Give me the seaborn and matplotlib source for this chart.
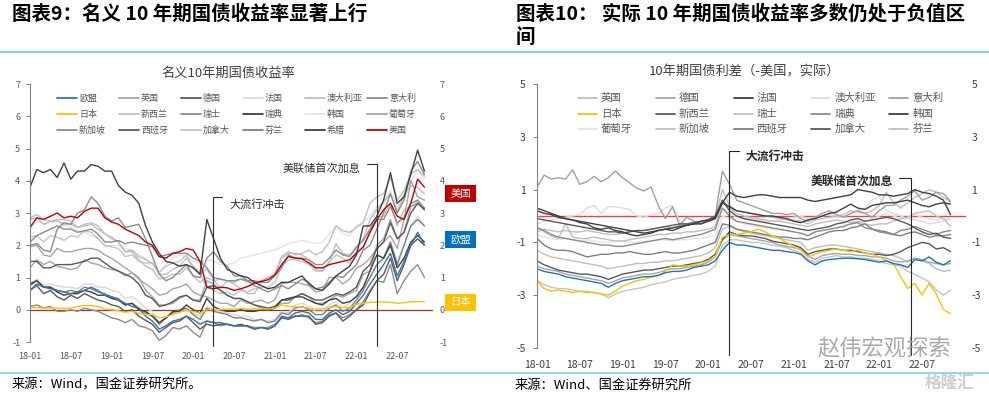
import numpy as np
import pandas as pd
import matplotlib
matplotlib.use("Agg")
import matplotlib.pyplot as plt
import seaborn as sns
from matplotlib.lines import Line2D
from matplotlib.patches import Rectangle

sns.set_style("white")
plt.rcParams['font.family'] = ['Noto Sans CJK SC', 'DejaVu Sans']
plt.rcParams['axes.unicode_minus'] = False

# ---------------- data (monthly, 2018-01 .. 2022-11) ----------------
tick_labels = ["18-01", "18-07", "19-01", "19-07", "20-01", "20-07", "21-01", "21-07", "22-01", "22-07"]

# left: nominal 10Y yields
nom_eu = [0.60, 0.80, 0.70, 0.65, 0.60, 0.55, 0.50, 0.55, 0.60, 0.70, 0.60, 0.45,
          0.40, 0.30, 0.20, 0.10, 0.05, -0.20, -0.35, -0.60, -0.50, -0.35, -0.30, -0.20,
          -0.30, -0.45, -0.35, -0.40, -0.40, -0.45, -0.50, -0.50, -0.50, -0.60, -0.55, -0.60,
          -0.50, -0.20, -0.25, -0.10, -0.05, -0.10, -0.30, -0.30, -0.10, 0.00, -0.15, -0.05,
          0.20, 0.45, 0.80, 1.10, 1.40, 1.75, 1.05, 1.50, 2.00, 2.40, 2.00]
nom_uk = [1.30, 1.55, 1.40, 1.50, 1.35, 1.30, 1.25, 1.30, 1.55, 1.45, 1.40, 1.30,
          1.25, 1.20, 1.05, 1.15, 0.95, 0.80, 0.65, 0.45, 0.50, 0.65, 0.70, 0.80,
          0.55, 0.45, 0.40, 0.30, 0.20, 0.20, 0.10, 0.30, 0.20, 0.25, 0.30, 0.20,
          0.30, 0.80, 0.85, 0.85, 0.80, 0.75, 0.55, 0.60, 1.00, 1.00, 0.80, 0.95,
          1.30, 1.40, 1.60, 1.90, 2.10, 2.30, 1.90, 2.80, 4.00, 3.50, 3.40]
nom_de = [0.60, 0.75, 0.50, 0.60, 0.40, 0.30, 0.45, 0.35, 0.50, 0.40, 0.30, 0.25,
          0.15, 0.10, -0.05, 0.00, -0.20, -0.33, -0.45, -0.70, -0.55, -0.40, -0.35, -0.20,
          -0.40, -0.60, -0.45, -0.50, -0.45, -0.45, -0.50, -0.45, -0.52, -0.60, -0.55, -0.60,
          -0.50, -0.25, -0.30, -0.20, -0.20, -0.20, -0.45, -0.40, -0.20, -0.10, -0.35, -0.20,
          0.00, 0.15, 0.55, 0.90, 1.10, 1.60, 0.90, 1.40, 2.00, 2.20, 2.00]
nom_fr = [0.80, 0.95, 0.75, 0.80, 0.75, 0.70, 0.70, 0.65, 0.80, 0.80, 0.70, 0.70,
          0.60, 0.55, 0.35, 0.40, 0.25, 0.05, -0.05, -0.40, -0.25, -0.10, -0.05, 0.05,
          -0.10, -0.20, 0.10, 0.00, -0.05, -0.10, -0.15, -0.20, -0.20, -0.30, -0.30, -0.35,
          -0.30, -0.05, -0.10, 0.15, 0.20, 0.10, -0.05, -0.05, 0.15, 0.25, 0.05, 0.20,
          0.45, 0.70, 1.00, 1.40, 1.60, 2.10, 1.50, 2.00, 2.60, 2.90, 2.60]
nom_au = [2.80, 2.85, 2.65, 2.75, 2.75, 2.65, 2.65, 2.55, 2.65, 2.70, 2.60, 2.35,
          2.25, 2.10, 1.80, 1.80, 1.55, 1.35, 1.25, 0.95, 1.00, 1.10, 1.10, 1.30,
          1.05, 0.85, 1.00, 0.90, 0.95, 0.90, 0.85, 0.95, 0.85, 0.85, 0.90, 1.00,
          1.10, 1.60, 1.75, 1.75, 1.70, 1.55, 1.25, 1.20, 1.45, 2.05, 1.75, 1.70,
          1.90, 2.20, 2.80, 3.10, 3.35, 3.60, 3.05, 3.55, 3.85, 3.80, 3.60]
nom_it = [2.00, 2.05, 1.85, 1.80, 2.50, 2.70, 2.65, 3.00, 3.10, 3.50, 3.30, 2.90,
          2.75, 2.85, 2.55, 2.60, 2.65, 2.20, 1.65, 1.10, 0.90, 1.00, 1.20, 1.40,
          1.05, 1.00, 1.60, 1.80, 1.50, 1.35, 1.05, 1.05, 0.90, 0.75, 0.65, 0.55,
          0.65, 0.75, 0.65, 0.80, 0.95, 0.85, 0.65, 0.70, 0.85, 1.05, 1.00, 1.20,
          1.40, 1.85, 2.00, 2.50, 3.00, 3.60, 3.00, 3.40, 4.30, 4.60, 4.20]
nom_jp = [0.07, 0.07, 0.05, 0.05, 0.05, 0.04, 0.05, 0.10, 0.13, 0.13, 0.10, 0.02,
          0.00, -0.03, -0.08, -0.05, -0.10, -0.15, -0.15, -0.25, -0.22, -0.15, -0.08, -0.02,
          -0.05, -0.10, 0.00, 0.02, 0.00, 0.02, 0.02, 0.05, 0.02, 0.04, 0.02, 0.02,
          0.05, 0.15, 0.10, 0.10, 0.08, 0.05, 0.02, 0.03, 0.07, 0.10, 0.07, 0.07,
          0.17, 0.20, 0.23, 0.24, 0.24, 0.23, 0.20, 0.22, 0.25, 0.25, 0.25]
nom_nz = [2.85, 2.95, 2.80, 2.75, 2.80, 2.80, 2.75, 2.55, 2.60, 2.65, 2.50, 2.35,
          2.20, 2.10, 1.80, 1.85, 1.65, 1.55, 1.45, 1.10, 1.10, 1.25, 1.35, 1.60,
          1.35, 1.15, 1.25, 0.95, 0.65, 0.90, 0.80, 0.65, 0.50, 0.50, 0.85, 1.00,
          1.10, 1.65, 1.80, 1.70, 1.75, 1.85, 1.70, 1.80, 2.10, 2.60, 2.45, 2.40,
          2.55, 2.70, 3.30, 3.50, 3.60, 4.10, 3.40, 3.70, 4.20, 4.35, 4.15]
nom_ch = [0.10, 0.15, 0.05, 0.10, -0.05, -0.05, 0.00, -0.05, 0.05, 0.00, -0.05, -0.15,
          -0.25, -0.30, -0.40, -0.30, -0.50, -0.55, -0.65, -0.95, -0.80, -0.55, -0.60, -0.50,
          -0.70, -0.85, -0.35, -0.40, -0.50, -0.45, -0.50, -0.50, -0.50, -0.55, -0.55, -0.55,
          -0.45, -0.25, -0.25, -0.20, -0.15, -0.25, -0.40, -0.35, -0.15, -0.10, -0.25, -0.15,
          0.00, 0.25, 0.60, 0.90, 0.85, 1.40, 0.50, 0.90, 1.20, 1.40, 1.00]
nom_se = [0.80, 0.90, 0.70, 0.70, 0.55, 0.45, 0.50, 0.50, 0.60, 0.55, 0.45, 0.45,
          0.35, 0.30, 0.15, 0.20, 0.00, -0.05, -0.20, -0.40, -0.25, -0.05, -0.05, 0.15,
          0.00, -0.10, 0.35, 0.10, 0.00, -0.05, -0.05, 0.00, -0.05, -0.05, 0.00, 0.00,
          0.05, 0.30, 0.35, 0.40, 0.40, 0.30, 0.20, 0.15, 0.30, 0.35, 0.20, 0.25,
          0.40, 0.70, 1.20, 1.70, 1.60, 2.00, 1.30, 1.60, 2.10, 2.30, 2.10]
nom_kr = [2.50, 2.75, 2.65, 2.70, 2.75, 2.60, 2.55, 2.45, 2.40, 2.30, 2.20, 1.95,
          2.00, 2.00, 1.90, 1.85, 1.70, 1.60, 1.40, 1.20, 1.40, 1.60, 1.70, 1.65,
          1.50, 1.45, 1.55, 1.50, 1.40, 1.40, 1.45, 1.60, 1.65, 1.70, 1.75, 1.80,
          1.85, 1.95, 2.05, 2.10, 2.15, 2.10, 2.05, 2.10, 2.35, 2.60, 2.35, 2.30,
          2.60, 2.70, 2.90, 3.20, 3.30, 3.70, 3.20, 3.40, 4.00, 4.30, 4.10]
nom_pt = [1.95, 2.00, 1.70, 1.65, 1.90, 1.80, 1.80, 1.85, 1.90, 1.90, 1.85, 1.70,
          1.60, 1.45, 1.30, 1.15, 1.00, 0.60, 0.40, 0.15, 0.15, 0.20, 0.35, 0.45,
          0.30, 0.30, 0.90, 0.80, 0.60, 0.45, 0.35, 0.35, 0.25, 0.15, 0.05, 0.00,
          0.05, 0.20, 0.20, 0.40, 0.50, 0.40, 0.20, 0.20, 0.30, 0.45, 0.40, 0.50,
          0.60, 1.10, 1.20, 2.00, 2.20, 2.80, 2.20, 2.40, 3.20, 3.30, 3.15]
nom_sg = [2.10, 2.30, 2.40, 2.50, 2.60, 2.50, 2.50, 2.40, 2.45, 2.50, 2.35, 2.10,
          2.10, 2.15, 2.05, 2.10, 2.05, 2.00, 1.95, 1.65, 1.70, 1.75, 1.75, 1.75,
          1.60, 1.50, 1.30, 1.00, 0.95, 0.90, 0.90, 0.95, 0.90, 0.90, 0.85, 0.85,
          1.05, 1.30, 1.70, 1.60, 1.60, 1.55, 1.40, 1.40, 1.60, 1.85, 1.70, 1.65,
          1.95, 2.15, 2.50, 2.80, 2.80, 3.20, 2.70, 2.85, 3.30, 3.40, 3.15]
nom_es = [1.50, 1.50, 1.30, 1.30, 1.40, 1.40, 1.40, 1.45, 1.50, 1.60, 1.60, 1.45,
          1.30, 1.20, 1.10, 1.00, 0.80, 0.45, 0.35, 0.10, 0.15, 0.25, 0.40, 0.45,
          0.30, 0.25, 0.70, 0.75, 0.60, 0.45, 0.35, 0.35, 0.25, 0.15, 0.10, 0.05,
          0.10, 0.30, 0.30, 0.40, 0.50, 0.40, 0.30, 0.30, 0.40, 0.50, 0.45, 0.55,
          0.70, 1.20, 1.40, 1.90, 2.10, 2.70, 2.20, 2.40, 3.00, 3.30, 3.10]
nom_ca = [2.25, 2.30, 2.10, 2.30, 2.25, 2.15, 2.30, 2.25, 2.45, 2.40, 2.20, 2.00,
          1.95, 1.90, 1.65, 1.70, 1.50, 1.45, 1.45, 1.15, 1.35, 1.45, 1.50, 1.70,
          1.30, 1.10, 0.70, 0.60, 0.50, 0.55, 0.45, 0.60, 0.55, 0.65, 0.70, 0.70,
          0.85, 1.35, 1.55, 1.55, 1.50, 1.40, 1.20, 1.20, 1.50, 1.70, 1.60, 1.45,
          1.80, 1.90, 2.45, 2.85, 2.90, 3.30, 2.60, 3.10, 3.20, 3.35, 3.10]
nom_fi = [0.75, 0.90, 0.70, 0.70, 0.60, 0.55, 0.60, 0.55, 0.70, 0.65, 0.55, 0.50,
          0.40, 0.35, 0.15, 0.20, 0.05, -0.10, -0.20, -0.45, -0.25, -0.10, 0.00, 0.05,
          -0.15, -0.30, 0.05, -0.05, -0.10, -0.15, -0.25, -0.25, -0.30, -0.35, -0.30, -0.40,
          -0.35, -0.10, -0.15, 0.05, 0.10, 0.00, -0.15, -0.15, 0.05, 0.15, -0.05, 0.05,
          0.30, 0.60, 1.00, 1.40, 1.60, 2.10, 1.40, 2.00, 2.60, 2.80, 2.60]
nom_gr = [3.80, 4.35, 4.25, 4.35, 4.10, 4.55, 4.05, 4.30, 4.30, 4.50, 4.45, 4.30,
          4.30, 3.85, 3.65, 3.55, 3.30, 2.60, 2.10, 1.75, 1.50, 1.45, 1.35, 1.40,
          1.30, 1.10, 2.80, 2.20, 1.60, 1.25, 1.15, 1.05, 1.00, 0.85, 0.75, 0.65,
          0.70, 0.85, 0.85, 0.95, 1.05, 0.80, 0.65, 0.60, 0.80, 1.05, 1.20, 1.35,
          1.70, 2.60, 2.60, 2.90, 3.40, 4.25, 3.30, 3.50, 4.20, 4.95, 4.30]
nom_us = [2.55, 2.85, 2.80, 2.90, 3.00, 2.85, 2.90, 2.85, 3.05, 3.15, 3.15, 2.85,
          2.72, 2.65, 2.50, 2.40, 2.30, 2.10, 2.00, 1.65, 1.60, 1.75, 1.80, 1.90,
          1.85, 1.50, 0.70, 0.65, 0.70, 0.68, 0.60, 0.65, 0.72, 0.82, 0.88, 0.93,
          1.08, 1.40, 1.65, 1.60, 1.58, 1.45, 1.30, 1.30, 1.40, 1.45, 1.50, 1.55,
          1.75, 1.95, 2.40, 2.80, 3.10, 3.30, 2.90, 2.80, 3.30, 4.05, 3.80]

nom_names = ["欧盟", "英国", "德国", "法国", "澳大利亚", "意大利",
             "日本", "新西兰", "瑞士", "瑞典", "韩国", "葡萄牙",
             "新加坡", "西班牙", "加拿大", "芬兰", "希腊", "美国"]
nom_series = [nom_eu, nom_uk, nom_de, nom_fr, nom_au, nom_it,
              nom_jp, nom_nz, nom_ch, nom_se, nom_kr, nom_pt,
              nom_sg, nom_es, nom_ca, nom_fi, nom_gr, nom_us]
nom_colors = ["#2e75b6", "#a6a6a6", "#595959", "#d9d9d9", "#bfbfbf", "#8c8c8c",
              "#ffc000", "#bfbfbf", "#8c8c8c", "#404040", "#e3e3e3", "#a6a6a6",
              "#8c8c8c", "#595959", "#c4c4c4", "#808080", "#404040", "#c00000"]

# right: real 10Y spreads vs US
real_uk = [-0.40, -0.60, -0.75, -0.85, -0.30, -0.80, -0.85, -0.85, -0.80, -0.85, -0.90, -0.95,
           -0.95, -0.90, -0.85, -0.80, -0.75, -0.70, -0.70, -0.65, -0.65, -0.60, -0.60, -0.55,
           -0.50, -0.40, 0.60, 0.30, 0.10, 0.00, -0.05, -0.10, -0.15, -0.20, -0.20, -0.25,
           -0.30, -0.35, -0.40, -0.30, -0.25, -0.20, -0.15, -0.20, -0.25, -0.20, -0.30, -0.35,
           -0.30, -0.30, -0.20, -0.10, -0.05, 0.10, 0.15, 0.20, 0.00, -0.10, -0.40]
real_de = [-1.90, -2.00, -2.05, -2.10, -2.20, -2.25, -2.30, -2.35, -2.40, -2.45, -2.55, -2.45,
           -2.35, -2.30, -2.25, -2.20, -2.20, -2.15, -2.05, -2.00, -2.00, -1.95, -1.90, -1.85,
           -1.75, -1.55, -0.90, -0.70, -0.75, -0.80, -0.85, -0.90, -0.95, -1.00, -1.10, -1.15,
           -1.20, -1.25, -1.50, -1.65, -1.50, -1.45, -1.42, -1.45, -1.45, -1.50, -1.50, -1.55,
           -1.55, -1.60, -1.70, -1.75, -1.70, -1.60, -1.65, -1.75, -1.80, -1.85, -1.80]
real_fr = [0.30, 0.20, 0.10, 0.00, -0.10, -0.15, -0.25, -0.30, -0.45, -0.50, -0.45, -0.55,
           -0.60, -0.70, -0.75, -0.70, -0.65, -0.55, -0.50, -0.55, -0.45, -0.35, -0.30, -0.20,
           -0.15, -0.05, 0.50, 0.90, 0.75, 0.70, 0.75, 0.80, 0.80, 0.75, 0.70, 0.70,
           0.70, 0.70, 0.60, 0.55, 0.60, 0.65, 0.70, 0.75, 0.80, 1.00, 0.95, 0.90,
           0.80, 0.80, 0.75, 0.80, 0.85, 1.00, 0.90, 0.85, 0.75, 0.60, 0.05]
real_au = [-0.30, -0.20, -0.15, -0.10, -0.05, 0.00, 0.05, 0.30, 0.40, 0.10, 0.35, 0.35,
           0.30, 0.25, 0.00, -0.05, 0.05, 0.10, 0.30, 0.40, -0.20, -0.30, -0.25, -0.20,
           -0.15, -0.10, 0.30, 0.10, -0.05, -0.10, -0.10, -0.15, -0.20, -0.20, -0.15, -0.10,
           -0.05, 0.00, -0.10, -0.05, 0.00, 0.05, 0.00, -0.05, 0.10, 0.20, 0.30, 0.60,
           0.75, 0.20, 0.10, 0.00, -0.10, -0.15, -0.20, -0.30, -0.25, -0.20, -0.10]
real_it = [1.10, 1.55, 1.40, 1.45, 1.40, 1.75, 1.20, 1.30, 1.50, 1.30, 1.45, 1.70,
           1.45, 1.25, 1.05, 0.95, 1.10, 0.40, -0.10, 0.35, -0.35, -0.05, -0.20, -0.30,
           -0.15, 0.00, 1.70, 1.20, 0.60, 0.50, 0.40, 0.30, 0.20, 0.10, 0.10, 0.05,
           0.10, -0.10, -0.20, -0.05, 0.10, 0.20, 0.05, -0.05, 0.10, 0.20, 0.10, -0.05,
           0.20, 0.40, 0.40, 0.60, 0.75, 0.95, 0.60, 0.70, 0.90, 0.85, 0.55]
real_jp = [-2.45, -2.75, -2.85, -2.80, -2.85, -2.90, -2.85, -2.90, -2.90, -2.95, -3.00, -2.85,
           -2.65, -2.55, -2.45, -2.40, -2.30, -2.25, -2.10, -1.85, -1.90, -1.90, -1.85, -1.77,
           -1.70, -1.55, -0.80, -0.70, -0.70, -0.65, -0.60, -0.50, -0.60, -0.75, -0.85, -1.00,
           -1.15, -1.30, -1.55, -1.45, -1.35, -1.30, -1.25, -1.30, -1.35, -1.30, -1.40, -1.45,
           -1.55, -1.70, -1.80, -2.30, -2.75, -2.55, -3.00, -2.55, -2.95, -3.55, -3.70]
real_nz = [-1.70, -1.85, -1.95, -2.05, -2.10, -2.15, -2.20, -2.20, -2.25, -2.30, -2.40, -2.30,
           -2.20, -2.15, -2.10, -2.05, -2.05, -2.00, -1.95, -1.90, -1.90, -1.85, -1.80, -1.75,
           -1.65, -1.45, -0.90, -0.60, -0.70, -0.75, -0.75, -0.80, -0.85, -0.95, -1.00, -1.05,
           -1.10, -1.20, -1.45, -1.35, -1.30, -1.25, -1.25, -1.30, -1.30, -1.35, -1.40, -1.45,
           -1.45, -1.50, -1.45, -1.35, -1.20, -1.10, -1.00, -1.05, -1.25, -1.20, -1.35]
real_ch = [-2.45, -2.60, -2.70, -2.75, -2.75, -2.80, -2.85, -2.85, -2.90, -2.95, -3.10, -2.95,
           -2.85, -2.80, -2.75, -2.70, -2.60, -2.55, -2.50, -2.40, -2.35, -2.30, -2.25, -2.20,
           -2.10, -1.90, -1.10, -0.90, -0.90, -0.95, -1.00, -1.00, -1.05, -1.10, -1.15, -1.20,
           -1.30, -1.40, -1.65, -1.75, -1.60, -1.55, -1.50, -1.55, -1.55, -1.60, -1.60, -1.65,
           -1.70, -1.80, -1.85, -1.90, -2.10, -2.20, -2.35, -2.50, -2.80, -3.00, -2.80]
real_se = [-0.45, -0.55, -0.70, -0.80, -0.85, -0.90, -0.95, -1.00, -1.05, -1.10, -1.10, -1.15,
           -1.15, -1.10, -1.05, -1.00, -0.95, -0.90, -0.85, -0.90, -0.85, -0.80, -0.75, -0.70,
           -0.60, -0.50, 0.30, 0.00, -0.20, -0.25, -0.30, -0.35, -0.40, -0.45, -0.50, -0.55,
           -0.60, -0.65, -0.75, -0.60, -0.55, -0.50, -0.45, -0.40, -0.30, -0.25, -0.45, -0.50,
           -0.60, -0.65, -0.70, -0.55, -0.50, -0.40, -0.50, -0.60, -0.70, -0.60, -0.55]
real_kr = [0.20, 0.10, 0.05, -0.05, -0.10, -0.15, -0.20, -0.25, -0.30, -0.35, -0.40, -0.45,
           -0.50, -0.55, -0.60, -0.65, -0.60, -0.55, -0.50, -0.45, -0.40, -0.35, -0.30, -0.30,
           -0.20, -0.10, 0.50, 0.35, 0.20, 0.15, 0.10, 0.05, 0.00, 0.00, -0.05, -0.10,
           -0.20, -0.25, -0.15, -0.10, 0.00, 0.10, 0.15, 0.30, 0.45, 0.30, 0.25, 0.40,
           0.45, 0.50, 0.50, 0.55, 0.60, 0.50, 0.40, 0.35, 0.45, 0.50, 0.45]
real_pt = [-0.70, -0.80, -0.85, -0.90, -0.85, -0.90, -0.95, -0.90, -0.95, -1.00, -1.00, -0.95,
           -0.95, -1.00, -1.00, -0.95, -0.95, -0.90, -0.90, -0.95, -0.90, -0.90, -0.85, -0.85,
           -0.80, -0.75, 0.00, -0.10, -0.20, -0.30, -0.35, -0.40, -0.45, -0.50, -0.50, -0.55,
           -0.60, -0.65, -0.70, -0.60, -0.55, -0.50, -0.45, -0.35, -0.30, -0.25, -0.20, -0.10,
           0.00, 0.10, 0.00, -0.10, -0.05, 0.05, -0.05, -0.10, -0.15, -0.10, -0.15]
real_sg = [-1.30, -1.45, -1.55, -1.60, -1.65, -1.70, -1.75, -1.80, -1.85, -1.90, -2.00, -1.95,
           -1.90, -1.85, -1.80, -1.80, -1.75, -1.75, -1.70, -1.70, -1.65, -1.60, -1.55, -1.50,
           -1.40, -1.20, -0.50, -0.40, -0.50, -0.60, -0.65, -0.70, -0.75, -0.80, -0.85, -0.90,
           -0.95, -1.00, -1.30, -1.20, -1.15, -1.10, -1.10, -1.15, -1.20, -1.25, -1.30, -1.35,
           -1.40, -1.45, -1.50, -1.60, -1.75, -1.60, -1.70, -1.80, -2.00, -2.10, -2.05]
real_es = [-0.85, -1.10, -1.25, -1.30, -1.30, -1.35, -1.45, -1.55, -1.50, -1.45, -1.45, -1.40,
           -1.40, -1.35, -1.40, -1.45, -1.45, -1.40, -1.35, -1.40, -1.40, -1.35, -1.30, -1.20,
           -1.10, -1.00, -0.30, -0.35, -0.50, -0.55, -0.60, -0.65, -0.70, -0.75, -0.80, -0.80,
           -0.85, -0.85, -0.90, -0.80, -0.70, -0.60, -0.55, -0.55, -0.45, -0.40, -0.30, -0.50,
           -0.55, -0.60, -0.70, -0.75, -0.65, -0.60, -0.70, -0.80, -0.75, -0.75, -0.70]
real_ca = [-0.10, -0.15, -0.20, -0.25, -0.30, -0.35, -0.40, -0.45, -0.50, -0.55, -0.60, -0.60,
           -0.65, -0.60, -0.55, -0.55, -0.50, -0.45, -0.40, -0.35, -0.30, -0.30, -0.25, -0.20,
           -0.15, 0.00, 0.60, 0.20, 0.00, -0.10, -0.15, -0.20, -0.25, -0.30, -0.35, -0.40,
           -0.45, -0.50, -0.55, -0.50, -0.45, -0.40, -0.30, -0.25, -0.15, -0.10, -0.20, -0.15,
           -0.10, -0.05, -0.10, -0.20, -0.30, -0.45, -0.60, -0.70, -0.65, -0.80, -0.85]
real_fi = [-0.60, -0.50, -0.55, -0.60, -0.55, -0.60, -0.60, -0.55, -0.60, -0.65, -0.70, -0.70,
           -0.65, -0.60, -0.55, -0.55, -0.50, -0.45, -0.40, -0.45, -0.35, -0.30, -0.30, -0.25,
           -0.20, -0.10, 1.00, 0.40, 0.20, 0.15, 0.10, 0.05, 0.00, -0.05, -0.10, -0.15,
           -0.15, -0.20, -0.30, -0.15, -0.10, -0.05, 0.00, 0.05, 0.20, 0.15, 0.10, 0.20,
           0.40, 0.90, 0.50, 0.30, 0.50, 0.70, 0.85, 1.00, 0.90, 0.70, 0.55]
real_ea = [-2.00, -2.10, -2.15, -2.20, -2.30, -2.35, -2.40, -2.45, -2.50, -2.55, -2.70, -2.55,
           -2.45, -2.40, -2.35, -2.30, -2.30, -2.25, -2.15, -2.10, -2.10, -2.05, -1.95, -1.90,
           -1.85, -1.70, -1.30, -1.00, -1.10, -1.10, -1.15, -1.20, -1.25, -1.30, -1.30, -1.35,
           -1.38, -1.45, -1.70, -1.85, -1.70, -1.65, -1.62, -1.60, -1.60, -1.62, -1.65, -1.70,
           -1.75, -1.70, -1.80, -1.85, -1.95, -1.65, -1.70, -1.55, -1.75, -1.85, -1.70]

real_names = ["英国", "德国", "法国", "澳大利亚", "意大利",
              "日本", "新西兰", "瑞士", "瑞典", "韩国",
              "葡萄牙", "新加坡", "西班牙", "加拿大", "芬兰"]
real_series = [real_uk, real_de, real_fr, real_au, real_it,
               real_jp, real_nz, real_ch, real_se, real_kr,
               real_pt, real_sg, real_es, real_ca, real_fi]
real_colors = ["#bfbfbf", "#a6a6a6", "#404040", "#dcdcdc", "#a0a0a0",
               "#ffc000", "#595959", "#c4c4c4", "#8c8c8c", "#404040",
               "#e3e3e3", "#bfbfbf", "#7f7f7f", "#595959", "#bfbfbf"]
real_extra_name = "欧元区"
real_extra_color = "#1f73c0"

months = np.arange(len(nom_us))
for s in nom_series + real_series + [real_ea]:
    assert len(s) == len(months), len(s)

# ---------------- figure ----------------
W, H = 989, 394
fig = plt.figure(figsize=(W / 100, H / 100), dpi=100)
fig.patch.set_facecolor("white")


def fx(px):
    return px / W


def fy(py):
    return 1 - py / H


def lightness(c):
    return int(c[1:3], 16)


def long_df(names, series):
    rows = []
    for n, s in zip(names, series):
        rows.append(pd.DataFrame({"m": months, "v": s, "country": n}))
    return pd.concat(rows, ignore_index=True)


TICK_POS = list(range(0, 55, 6))

# ---------- left panel ----------
ax1 = fig.add_axes([fx(30), fy(342), fx(433) - fx(30), fy(84) - fy(342)])
df_nom = long_df(nom_names, nom_series)
pal_nom = dict(zip(nom_names, nom_colors))
special = ["欧盟", "日本", "美国"]
gray_nom = [n for n in nom_names if n not in special]
order_nom = sorted(gray_nom, key=lambda n: -lightness(pal_nom[n])) + special
sns.lineplot(data=df_nom, x="m", y="v", hue="country", hue_order=order_nom,
             palette=pal_nom, linewidth=1.0, legend=False, ax=ax1,
             estimator=None, errorbar=None)
ax1.set_xlim(0, 59.26)
ax1.set_ylim(-1, 7)
ax1.set_yticks(range(-1, 8))
ax1.set_xticks(TICK_POS, tick_labels)
ax1.set_xlabel("")
ax1.set_ylabel("")
for sp in ["top", "right", "bottom"]:
    ax1.spines[sp].set_visible(False)
ax1.spines["left"].set_color("#808080")
ax1.spines["left"].set_linewidth(0.8)
ax1.tick_params(axis="y", direction="out", length=3, width=0.7, color="#808080",
                labelsize=6.5, labelcolor="#595959", pad=4)
ax1.tick_params(axis="x", length=0, labelsize=6.5, labelcolor="#595959", pad=7)
ax1.axhline(0, color="#a33030", lw=0.9, zorder=1.5)
ax1r = ax1.twinx()
ax1r.set_ylim(-1, 7)
ax1r.set_yticks(range(-1, 8))
for sp in ax1r.spines.values():
    sp.set_visible(False)
ax1r.tick_params(axis="y", length=0, labelsize=6.5, labelcolor="#595959", pad=5)

# annotations left
ann_col = "#303030"
ax1.plot([26.9, 26.9, 28.3], [-1.12, 3.5, 3.5], color=ann_col, lw=0.8, clip_on=False, zorder=5)
ax1.text(29.3, 3.26, "大流行冲击", fontsize=8, color=ann_col, va="center", ha="left")
ax1.plot([49.5, 51.0, 51.0], [4.53, 4.53, -1.12], color=ann_col, lw=0.8, clip_on=False, zorder=5)
ax1.text(48.6, 4.37, "美联储首次加息", fontsize=8, color=ann_col, va="center", ha="right")

fig.text(fx(228), fy(73), "名义10年期国债收益率", fontsize=9.5, color="#404040",
         ha="center", va="center")

# left legend (manual grid)
for i, (n, c) in enumerate(zip(nom_names, nom_colors)):
    r, col = divmod(i, 6)
    x0 = 57 + 62 * col
    y0 = 98 + 16 * r
    fig.add_artist(Line2D([fx(x0), fx(x0 + 20)], [fy(y0), fy(y0)], color=c, lw=1.3,
                          transform=fig.transFigure))
    fig.text(fx(x0 + 22), fy(y0), n, fontsize=6.5, color="#595959", ha="left", va="center")

# right-side tags
for label, color, y_top, y_bot in [("美国", "#c00000", 185, 202),
                                   ("欧盟", "#0070c0", 231, 248),
                                   ("日本", "#ffc000", 294, 311)]:
    fig.add_artist(Rectangle((fx(445), fy(y_bot)), 31 / W, (y_bot - y_top) / H,
                             transform=fig.transFigure, color=color, lw=0))
    fig.text(fx(460.5), fy((y_top + y_bot) / 2), label, fontsize=7.5, color="white",
             ha="center", va="center")

# ---------- right panel ----------
ax2 = fig.add_axes([fx(537), fy(348), fx(966) - fx(537), fy(84) - fy(348)])
df_real = long_df(real_names + [real_extra_name], real_series + [real_ea])
pal_real = dict(zip(real_names, real_colors))
pal_real[real_extra_name] = real_extra_color
gray_real = [n for n in real_names if n != "日本"]
order_real = sorted(gray_real, key=lambda n: -lightness(pal_real[n])) + ["日本", real_extra_name]
sns.lineplot(data=df_real, x="m", y="v", hue="country", hue_order=order_real,
             palette=pal_real, linewidth=1.0, legend=False, ax=ax2,
             estimator=None, errorbar=None)
ax2.set_xlim(0, 60.17)
ax2.set_ylim(-5, 5)
ax2.set_yticks([-5, -3, -1, 1, 3, 5])
ax2.set_xticks(TICK_POS, tick_labels)
ax2.set_xlabel("")
ax2.set_ylabel("")
for sp in ["top", "right", "bottom"]:
    ax2.spines[sp].set_visible(False)
ax2.spines["left"].set_color("#808080")
ax2.spines["left"].set_linewidth(0.8)
ax2.tick_params(axis="y", direction="out", length=3, width=0.7, color="#808080",
                labelsize=7.5, labelcolor="#404040", pad=5)
ax2.tick_params(axis="x", length=0, labelsize=7.5, labelcolor="#404040", pad=9)
ax2.axhline(0, color="#ff3b3b", lw=1.0, zorder=1.5)
ax2r = ax2.twinx()
ax2r.set_ylim(-5, 5)
ax2r.set_yticks([-5, -3, -1, 1, 3, 5])
for sp in ax2r.spines.values():
    sp.set_visible(False)
ax2r.tick_params(axis="y", length=0, labelsize=7.5, labelcolor="#404040", pad=4)

ann2 = "#262626"
ax2.plot([28.3, 26.93, 26.93], [2.47, 2.47, -5.25], color=ann2, lw=0.8, clip_on=False, zorder=5)
ax2.text(29.2, 2.25, "大流行冲击", fontsize=8.5, color=ann2, va="center", ha="left",
         fontweight="bold")
ax2.plot([50.8, 52.4, 52.4], [1.45, 1.45, -5.25], color=ann2, lw=0.8, clip_on=False, zorder=5)
ax2.text(49.9, 1.3, "美联储首次加息", fontsize=8.5, color=ann2, va="center", ha="right",
         fontweight="bold")

fig.text(fx(745), fy(72), "10年期国债利差（-美国，实际）", fontsize=9.5, color="#404040",
         ha="center", va="center")

for i, (n, c) in enumerate(zip(real_names, real_colors)):
    r, col = divmod(i, 5)
    x0 = 578 + 77.8 * col
    y0 = 98 + 15.5 * r
    fig.add_artist(Line2D([fx(x0), fx(x0 + 19)], [fy(y0), fy(y0)], color=c, lw=1.3,
                          transform=fig.transFigure))
    fig.text(fx(x0 + 23), fy(y0), n, fontsize=7.5, color="#595959", ha="left", va="center")

# ---------- header / footer ----------
fig.text(fx(12), fy(14), "图表9：名义 10 年期国债收益率显著上行", fontsize=14,
         fontweight="bold", color="black", ha="left", va="center")
fig.text(fx(516), fy(14), "图表10： 实际 10 年期国债收益率多数仍处于负值区", fontsize=14,
         fontweight="bold", color="black", ha="left", va="center")
fig.text(fx(516), fy(37), "间", fontsize=14, fontweight="bold", color="black",
         ha="left", va="center")
sep = "#7fcdf0"
fig.add_artist(Line2D([0, 1], [fy(52), fy(52)], color=sep, lw=1.6, transform=fig.transFigure))
fig.add_artist(Line2D([0, 1], [fy(372.5), fy(372.5)], color=sep, lw=1.2, transform=fig.transFigure))
fig.text(fx(12), fy(385), "来源：Wind，国金证券研究所。", fontsize=9.5, color="black",
         ha="left", va="center")
fig.text(fx(515), fy(385), "来源：Wind、国金证券研究所", fontsize=9.5, color="black",
         ha="left", va="center")

# watermarks
fig.text(fx(884), fy(349), "赵伟宏观探索", fontsize=16, color="#9a9a9a", alpha=0.85,
         ha="center", va="center")
fig.text(fx(950), fy(383), "格隆汇", fontsize=12, color="#cfcfcf", ha="center", va="center",
         fontweight="bold")

fig.savefig("out.png", dpi=100, facecolor="white")
